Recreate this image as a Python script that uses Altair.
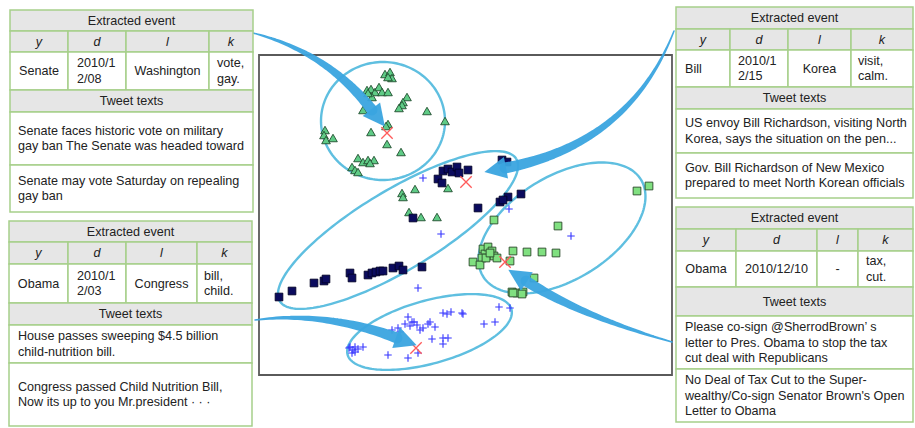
import altair as alt
import numpy as np
import pandas as pd

W, H = 915, 428
FONT = "Liberation Sans"
GREEN = "#a6cf8a"
GRAY = "#e6e6e6"
BLUE = "#3aa4df"
ELL = "#5fbfe0"

# ---------------- scatter values ----------------
tri_x = [385, 390, 392, 388, 367, 371, 375, 379, 382, 388, 372, 368, 407, 403, 402, 399,
         363, 427, 445, 388, 386, 371, 325, 324, 326, 333, 387, 401, 358, 363, 368, 374,
         370, 352, 355, 358, 402, 403, 415, 448, 409, 421, 437]
tri_y = [74, 72, 78, 77, 90, 89, 92, 87, 92, 92, 97, 93, 97, 102, 105, 108,
         110, 111, 121, 124, 126, 132, 130, 135, 140, 138, 144, 152, 158, 162, 160, 160,
         163, 167, 170, 172, 193, 197, 189, 188, 212, 217, 217]

navy_x = [443, 448, 452, 457, 459, 468, 438, 442, 502, 507, 478, 500, 508, 521, 503, 413,
          422, 279, 292, 314, 324, 326, 350, 352, 368, 372, 376, 380, 383, 393, 399, 403]
navy_y = [171, 169, 172, 167, 173, 170, 179, 183, 160, 162, 208, 202, 197, 194, 200, 218,
          267, 297, 291, 283, 281, 279, 273, 278, 275, 273, 272, 271, 271, 268, 266, 270]

lg_x = [637, 649, 494, 558, 483, 485, 488, 492, 494, 497, 482, 473, 480, 486, 490,
        513, 527, 542, 556, 510, 534, 512, 517, 523, 522, 513]
lg_y = [191, 186, 220, 226, 249, 254, 247, 251, 256, 258, 258, 262, 265, 258, 253,
        251, 252, 252, 253, 261, 278, 292, 293, 292, 294, 293]

plus_x = [423, 441, 509, 571, 418, 499, 510, 443, 447, 451, 462, 463,
          408, 412, 414, 410, 417, 405, 420, 423, 428, 430, 435, 392, 398, 400,
          484, 495, 432, 443, 448, 443, 349, 353, 355, 358, 363, 352, 355, 350,
          388, 408, 418]
plus_y = [178, 234, 209, 236, 288, 307, 308, 313, 314, 312, 313, 314,
          317, 322, 322, 326, 325, 324, 330, 328, 324, 322, 327, 330, 328, 332,
          324, 322, 339, 338, 338, 344, 348, 350, 347, 349, 347, 353, 352, 347,
          355, 358, 353]

center_x = [387, 466, 505, 416]
center_y = [133, 182, 262, 348]

# ---------------- table texts ----------------
head_labels = ["y", "d", "l", "k"]
t1_values = ["Senate", "2010/1\n2/08", "Washington", "vote,\ngay."]
t1_tweets = ["Senate faces historic vote on military\ngay ban The Senate was headed toward",
             "Senate may vote Saturday on repealing\ngay ban"]
t2_values = ["Obama", "2010/1\n2/03", "Congress", "bill,\nchild."]
t2_tweets = ["House passes sweeping $4.5 billion\nchild-nutrition bill.",
             "Congress passed Child Nutrition Bill,\nNow its up to you  Mr.president \u00b7 \u00b7 \u00b7"]
t3_values = ["Bill", "2010/1\n2/15", "Korea", "visit,\ncalm."]
t3_tweets = ["US envoy Bill Richardson, visiting North\nKorea, says the situation on the pen...",
             "Gov. Bill Richardson of New Mexico\nprepared to meet North Korean officials"]
t4_values = ["Obama", "2010/12/10", "-", "tax,\ncut."]
t4_tweets = ["Please co-sign @SherrodBrown\u2019 s\nletter to Pres. Obama to stop the tax\ncut deal with Republicans",
             "No Deal of Tax Cut to the Super-\nwealthy/Co-sign Senator Brown's Open\nLetter to Obama"]

# ---------------- layout (positions in picture pixels) ----------------
tables = [
    dict(cols=[10, 68, 126, 209, 253], rows=[10, 31, 52, 90, 112, 165, 212],
         vals=t1_values, tweets=t1_tweets, valpos=[None, 77, None, 217], tx=18),
    dict(cols=[9, 68, 126, 197, 252], rows=[221, 242, 264, 303, 325, 363, 426],
         vals=t2_values, tweets=t2_tweets, valpos=[None, 77, None, 204], tx=18),
    dict(cols=[676, 730, 788, 851, 913], rows=[7, 29, 50, 87, 109, 153, 198],
         vals=t3_values, tweets=t3_tweets, valpos=[685, 738, None, 858], tx=685),
    dict(cols=[676, 736, 817, 858, 913], rows=[207, 229, 251, 287, 316, 369, 422],
         vals=t4_values, tweets=t4_tweets, valpos=[None, None, None, 866], tx=685),
]
LH = 15.5

cells, ctext, ltext, itext = [], [], [], []


def add_lines(store, x, y0, y1, s):
    lines = s.split("\n")
    n = len(lines)
    cy = (y0 + y1) / 2
    for i, ln in enumerate(lines):
        store.append(dict(x=x, y=cy + (i - (n - 1) / 2) * LH, t=ln))


for tb in tables:
    c, r = tb["cols"], tb["rows"]
    cells.append(dict(x0=c[0], x1=c[-1], y0=r[0], y1=r[1], fill=GRAY))
    add_lines(ctext, (c[0] + c[-1]) / 2, r[0], r[1], "Extracted event")
    for j in range(4):
        cells.append(dict(x0=c[j], x1=c[j + 1], y0=r[1], y1=r[2], fill=GRAY))
        add_lines(itext, (c[j] + c[j + 1]) / 2, r[1], r[2], head_labels[j])
        cells.append(dict(x0=c[j], x1=c[j + 1], y0=r[2], y1=r[3], fill="white"))
        if tb["valpos"][j] is None:
            add_lines(ctext, (c[j] + c[j + 1]) / 2, r[2], r[3], tb["vals"][j])
        else:
            add_lines(ltext, tb["valpos"][j], r[2], r[3], tb["vals"][j])
    cells.append(dict(x0=c[0], x1=c[-1], y0=r[3], y1=r[4], fill=GRAY))
    add_lines(ctext, (c[0] + c[-1]) / 2, r[3], r[4], "Tweet texts")
    for k in range(2):
        cells.append(dict(x0=c[0], x1=c[-1], y0=r[4 + k], y1=r[5 + k], fill="white"))
        add_lines(ltext, tb["tx"], r[4 + k], r[5 + k], tb["tweets"][k])

frame = pd.DataFrame([dict(x0=259, x1=672, y0=55, y1=375)])

ellipses = [  # cx, cy, semi-major, semi-minor, tilt (deg, up-right)
    (383, 121, 62, 59, 0),
    (398, 230, 138, 40, 31),
    (562, 228, 92.6, 51.8, 31.5),
    (429.5, 332, 85, 31.5, 15.5),
]
ell_rows = []
for k, (cx, cy, a, b, ang) in enumerate(ellipses):
    t = np.linspace(0, 2 * np.pi, 160)
    th = np.radians(ang)
    ex, ey = a * np.cos(t), b * np.sin(t)
    xs_ = cx + ex * np.cos(th) - ey * np.sin(th)
    ys_ = cy - (ex * np.sin(th) + ey * np.cos(th))
    for i in range(len(t)):
        ell_rows.append(dict(x=xs_[i], y=ys_[i], id=k, o=i))

arrows = [  # start, control, head base
    ((253, 33), (327, 52), (372, 110)),
    ((674, 31), (630, 144), (505, 168)),
    ((672, 342), (581, 316), (526, 281)),
    ((255, 320), (324, 311), (397, 338)),
]
HEAD = 22
trail_rows, head_rows = [], []
for k, (p0, p1, p2) in enumerate(arrows):
    p0, p1, p2 = map(np.array, (p0, p1, p2))
    ts = np.linspace(0, 1, 40)
    for i, t in enumerate(ts):
        p = (1 - t) ** 2 * p0 + 2 * (1 - t) * t * p1 + t ** 2 * p2
        trail_rows.append(dict(x=p[0], y=p[1], id=k, o=i, w=1.5 + 9.5 * t))
    d = p2 - p1
    d = d / np.hypot(*d)
    c = p2 + d * (HEAD / 2 - 1)
    ang = (np.degrees(np.arctan2(d[0], -d[1])) + 360) % 360
    head_rows.append(dict(x=c[0], y=c[1], ang=ang))

# ---------------- chart ----------------
xs = alt.Scale(domain=[0, W], nice=False, zero=False)
ys = alt.Scale(domain=[0, H], nice=False, zero=False, reverse=True)


def X(f="x"):
    return alt.X(f"{f}:Q", scale=xs, axis=None)


def Y(f="y"):
    return alt.Y(f"{f}:Q", scale=ys, axis=None)


frame_l = alt.Chart(frame).mark_rect(fill="white", stroke="#5a5a5a", strokeWidth=1.8).encode(
    x=X("x0"), x2="x1", y=Y("y0"), y2="y1")

cells_l = alt.Chart(pd.DataFrame(cells)).mark_rect(stroke=GREEN, strokeWidth=1.5).encode(
    x=X("x0"), x2="x1", y=Y("y0"), y2="y1", fill=alt.Fill("fill:N", scale=None))

ell_l = alt.Chart(pd.DataFrame(ell_rows)).mark_line(color=ELL, strokeWidth=2.4).encode(
    x=X(), y=Y(), detail="id:N", order="o:Q")

tri_l = alt.Chart(pd.DataFrame(dict(x=tri_x, y=tri_y))).mark_point(
    shape="triangle-up", filled=True, fill="#5fcb86", stroke="#1f4d2e", strokeWidth=0.9,
    size=75, opacity=1).encode(x=X(), y=Y())
navy_l = alt.Chart(pd.DataFrame(dict(x=navy_x, y=navy_y))).mark_point(
    shape="square", filled=True, fill="#0b0b5e", stroke="#000022", strokeWidth=0.8,
    size=60, opacity=1).encode(x=X(), y=Y())
lg_l = alt.Chart(pd.DataFrame(dict(x=lg_x, y=lg_y))).mark_point(
    shape="square", filled=True, fill="#80e080", stroke="#2a4a2a", strokeWidth=0.9,
    size=60, opacity=1).encode(x=X(), y=Y())
plus_l = alt.Chart(pd.DataFrame(dict(x=plus_x, y=plus_y))).mark_point(
    shape="M-1,0L1,0M0,-1L0,1", filled=False, stroke="#3535ff", strokeWidth=1.1,
    size=56, opacity=1).encode(x=X(), y=Y())
cx_l = alt.Chart(pd.DataFrame(dict(x=center_x, y=center_y))).mark_point(
    shape="M-1,-1L1,1M-1,1L1,-1", filled=False, stroke="#ff5a5a", strokeWidth=1.3,
    size=130, opacity=1).encode(x=X(), y=Y())

trail_l = alt.Chart(pd.DataFrame(trail_rows)).mark_trail(color=BLUE, opacity=0.95).encode(
    x=X(), y=Y(), detail="id:N", order="o:Q", size=alt.Size("w:Q", scale=None))
head_l = alt.Chart(pd.DataFrame(head_rows)).mark_point(
    shape="M0,-1L1,1L-1,1Z", filled=True, fill=BLUE, size=HEAD * HEAD, opacity=0.95).encode(
    x=X(), y=Y(), angle=alt.Angle("ang:Q", scale=None))

txt_c = alt.Chart(pd.DataFrame(ctext)).mark_text(
    align="center", baseline="middle", font=FONT, fontSize=12.6, color="#222222").encode(
    x=X(), y=Y(), text="t:N")
txt_l = alt.Chart(pd.DataFrame(ltext)).mark_text(
    align="left", baseline="middle", font=FONT, fontSize=12.6, color="#222222").encode(
    x=X(), y=Y(), text="t:N")
txt_i = alt.Chart(pd.DataFrame(itext)).mark_text(
    align="center", baseline="middle", font=FONT, fontSize=12.6, fontStyle="italic",
    color="#222222").encode(x=X(), y=Y(), text="t:N")

chart = alt.layer(
    frame_l, ell_l, tri_l, navy_l, lg_l, plus_l, cx_l, trail_l, head_l,
    cells_l, txt_c, txt_l, txt_i
).properties(
    width=W, height=H, padding=0, autosize=alt.AutoSizeParams(type="none"),
    background="white"
).configure_view(strokeWidth=0)

chart.save("out.html", embed_options={"renderer": "svg", "actions": False})
